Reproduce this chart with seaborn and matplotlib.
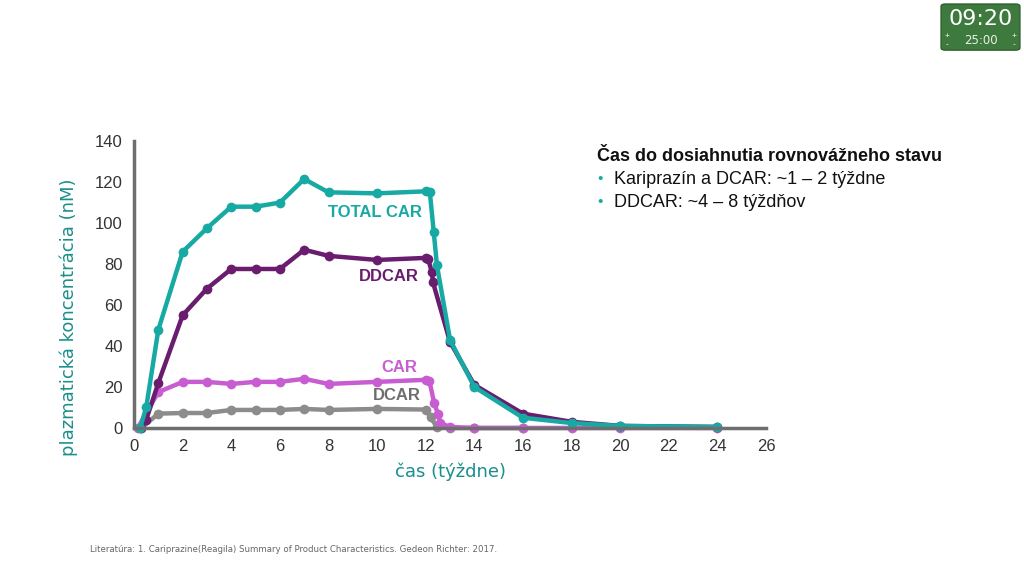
import numpy as np
import pandas as pd
import seaborn as sns
import matplotlib.pyplot as plt
from matplotlib.patches import FancyBboxPatch

# values (weeks, nM)
total_x = [0.25, 0.5, 1, 2, 3, 4, 5, 6, 7, 8, 10, 12, 12.17, 12.33, 12.46, 13, 14, 16, 18, 20, 24]
total_y = [0, 10, 48, 86, 97.5, 108, 108, 110, 121.5, 115, 114.5, 115.5, 115, 95.5, 79.5, 43, 20, 5, 2.4, 1, 0.5]
ddcar_x = [0.3, 0.5, 1, 2, 3, 4, 5, 6, 7, 8, 10, 12, 12.1, 12.25, 12.3, 13, 14, 16, 18, 20, 24]
ddcar_y = [0, 4, 22, 55, 68, 77.6, 77.6, 77.6, 87, 84, 82, 83, 82.5, 76, 71, 42, 21, 7, 3, 1, 0.5]
car_x = [0.15, 1, 2, 3, 4, 5, 6, 7, 8, 10, 12, 12.15, 12.35, 12.5, 12.6, 13, 14, 16, 18, 20, 24]
car_y = [0, 17.5, 22.5, 22.5, 21.5, 22.5, 22.5, 24, 21.5, 22.5, 23.5, 23, 12, 7, 2.4, 0.5, 0, 0, 0, 0, 0]
dcar_x = [0.3, 1, 2, 3, 4, 5, 6, 7, 8, 10, 12, 12.2, 12.45, 13, 14, 16]
dcar_y = [0, 7, 7.3, 7.3, 8.8, 8.8, 8.8, 9.3, 8.8, 9.3, 9, 5.3, 0.5, 0, 0, 0]

series = ["DCAR", "CAR", "DDCAR", "TOTAL CAR"]
colors = {"DCAR": "#8c8c8c", "CAR": "#c85dd2", "DDCAR": "#6a1c6e", "TOTAL CAR": "#17a9a3"}

df = pd.concat([
    pd.DataFrame({"week": dcar_x, "conc": dcar_y, "series": "DCAR"}),
    pd.DataFrame({"week": car_x, "conc": car_y, "series": "CAR"}),
    pd.DataFrame({"week": ddcar_x, "conc": ddcar_y, "series": "DDCAR"}),
    pd.DataFrame({"week": total_x, "conc": total_y, "series": "TOTAL CAR"}),
])

sns.set_style("white")
plt.rcParams["font.family"] = ["Liberation Sans", "DejaVu Sans"]

fig = plt.figure(figsize=(10.24, 5.76), dpi=100)
ax = fig.add_axes([0.1309, 0.257, 0.6172, 0.498])

sns.lineplot(data=df, x="week", y="conc", hue="series", hue_order=series,
             palette=colors, marker="o", markersize=7, markeredgewidth=0,
             linewidth=3.2, estimator=None, sort=False, legend=False, ax=ax,
             clip_on=False)

ax.set_xlim(0, 26)
ax.set_ylim(0, 140)
ax.set_xticks(np.arange(0, 27, 2))
ax.set_yticks(np.arange(0, 141, 20))
for s in ["top", "right"]:
    ax.spines[s].set_visible(False)
for s in ["left", "bottom"]:
    ax.spines[s].set_color("#6e6e6e")
    ax.spines[s].set_linewidth(2.5)
ax.tick_params(axis="both", direction="out", length=6, width=2, color="#6e6e6e",
               labelsize=12, labelcolor="#333333", pad=2)
ax.set_xlabel("čas (týždne)", color="#1a8f8c", fontsize=13, labelpad=6,
              family=["DejaVu Sans"])
ax.set_ylabel("plazmatická koncentrácia (nM)", color="#1a8f8c", fontsize=13,
              family=["DejaVu Sans"])
ax.yaxis.set_label_coords(-0.088, 0.387)

# series labels
lab = dict(fontsize=12, fontweight="bold", ha="center", va="center")
ax.text(9.9, 105, "TOTAL CAR", color=colors["TOTAL CAR"], **lab)
ax.text(10.5, 74, "DDCAR", color=colors["DDCAR"], **lab)
ax.text(10.9, 29.5, "CAR", color=colors["CAR"], **lab)
ax.text(10.8, 16, "DCAR", color="#6e6e6e", **lab)

# side note
fig.text(0.583, 0.729, "Čas do dosiahnutia rovnovážneho stavu", fontsize=13,
         fontweight="bold", color="#111111", va="center")
for i, t in enumerate(["Kariprazín a DCAR: ~1 – 2 týždne", "DDCAR: ~4 – 8 týždňov"]):
    yy = 0.689 - i * 0.040
    fig.text(0.583, yy, "•", fontsize=11, color="#17a9a3", va="center")
    fig.text(0.600, yy, t, fontsize=13, color="#111111", va="center")

fig.text(0.088, 0.046, "Literatúra: 1. Cariprazine(Reagila) Summary of Product Characteristics. "
         "Gedeon Richter: 2017.", fontsize=6.2, color="#666666", va="center",
         family=["DejaVu Sans"])

# timer widget in the corner
box = FancyBboxPatch((0.919, 0.913), 0.077, 0.080, boxstyle="round,pad=0,rounding_size=0.004",
                     transform=fig.transFigure, facecolor="#3e7a3e", edgecolor="#2d5e2d",
                     linewidth=1)
fig.patches.append(box)
fig.text(0.958, 0.967, "09:20", fontsize=16, color="white", ha="center", va="center",
         family=["DejaVu Sans"])
fig.text(0.958, 0.930, "25:00", fontsize=8.5, color="#e8f0e8", ha="center", va="center",
         family=["DejaVu Sans"])
for xx in (0.925, 0.990):
    fig.text(xx, 0.937, "+", fontsize=6, color="white", ha="center", va="center")
    fig.text(xx, 0.923, "-", fontsize=6, color="white", ha="center", va="center")

fig.savefig("out.png", dpi=100)
